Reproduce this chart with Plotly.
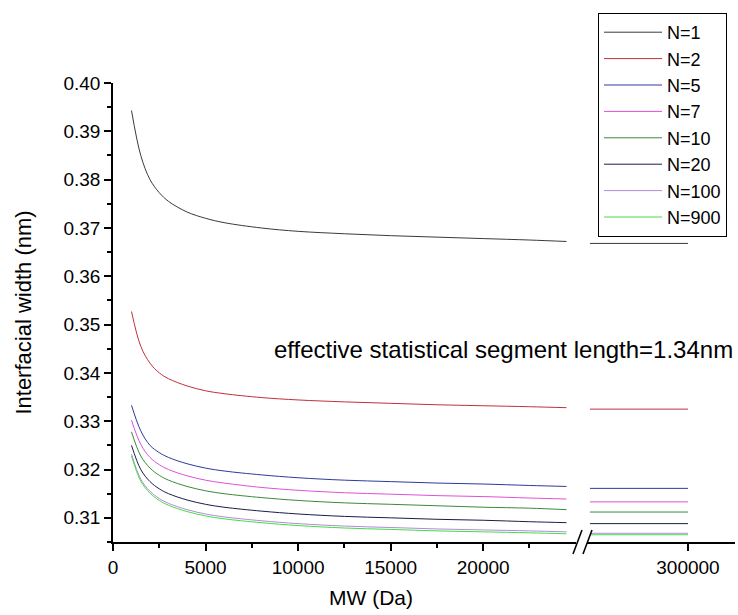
import plotly.graph_objects as go

# ---------------- data ----------------
mw_left = [1000, 1500, 2000, 2500, 3000, 4000, 5000, 6000, 8000, 10000,
           12500, 15000, 17500, 20000, 22500, 24500]
mw_right = [200000, 300000]

series_names = ["N=1", "N=2", "N=5", "N=7", "N=10", "N=20", "N=100", "N=900"]
series_colors = ["#3a3a3a", "#c0303c", "#2e3a9a", "#e050d8", "#3a8a3a",
                 "#1c1c4a", "#b48ad8", "#44dd44"]

w_N1 = [0.3943, 0.3850, 0.3800, 0.3773, 0.3755, 0.3733, 0.3720, 0.3711, 0.3700,
        0.3693, 0.3688, 0.3684, 0.3681, 0.3678, 0.3675, 0.3672]
w_N2 = [0.3527, 0.3455, 0.3420, 0.3400, 0.3388, 0.3373, 0.3363, 0.3357, 0.3349,
        0.3344, 0.3340, 0.3337, 0.3334, 0.3332, 0.3330, 0.3328]
w_N5 = [0.3333, 0.3280, 0.3250, 0.3235, 0.3225, 0.3212, 0.3203, 0.3197, 0.3189,
        0.3183, 0.3178, 0.3175, 0.3172, 0.3170, 0.3167, 0.3165]
w_N7 = [0.3302, 0.3252, 0.3225, 0.3210, 0.3200, 0.3187, 0.3178, 0.3172, 0.3163,
        0.3157, 0.3152, 0.3149, 0.3146, 0.3144, 0.3141, 0.3139]
w_N10 = [0.3278, 0.3228, 0.3203, 0.3188, 0.3178, 0.3165, 0.3156, 0.3150, 0.3142,
         0.3136, 0.3131, 0.3128, 0.3125, 0.3122, 0.3120, 0.3117]
w_N20 = [0.3250, 0.3200, 0.3175, 0.3160, 0.3150, 0.3137, 0.3128, 0.3122, 0.3114,
         0.3108, 0.3103, 0.3100, 0.3097, 0.3095, 0.3092, 0.3090]
w_N100 = [0.3232, 0.3180, 0.3155, 0.3140, 0.3130, 0.3117, 0.3108, 0.3102, 0.3094,
          0.3088, 0.3083, 0.3080, 0.3077, 0.3075, 0.3073, 0.3071]
w_N900 = [0.3228, 0.3176, 0.3151, 0.3136, 0.3126, 0.3113, 0.3104, 0.3098, 0.3090,
          0.3084, 0.3079, 0.3076, 0.3073, 0.3071, 0.3069, 0.3067]

w_right_N1 = [0.3668, 0.3668]
w_right_N2 = [0.3325, 0.3325]
w_right_N5 = [0.3161, 0.3161]
w_right_N7 = [0.3133, 0.3133]
w_right_N10 = [0.3112, 0.3112]
w_right_N20 = [0.3088, 0.3088]
w_right_N100 = [0.3068, 0.3068]
w_right_N900 = [0.3065, 0.3065]

left_sets = [w_N1, w_N2, w_N5, w_N7, w_N10, w_N20, w_N100, w_N900]
right_sets = [w_right_N1, w_right_N2, w_right_N5, w_right_N7, w_right_N10,
              w_right_N20, w_right_N100, w_right_N900]

y_ticks = [0.31, 0.32, 0.33, 0.34, 0.35, 0.36, 0.37, 0.38, 0.39, 0.40]
y_ticklabels = ["0.31", "0.32", "0.33", "0.34", "0.35", "0.36", "0.37", "0.38", "0.39", "0.40"]
x_ticks = [0, 5000, 10000, 15000, 20000]
x_ticklabels = ["0", "5000", "10000", "15000", "20000"]
x2_ticks = [300000]
x2_ticklabels = ["300000"]

FONT = "Liberation Sans, Arial, sans-serif"

fig = go.Figure()
for name, col, yl, yr in zip(series_names, series_colors, left_sets, right_sets):
    fig.add_trace(go.Scatter(x=mw_left, y=yl, mode="lines", name=name,
                             line=dict(color=col, width=1, shape="spline"),
                             xaxis="x", yaxis="y", legendgroup=name))
    fig.add_trace(go.Scatter(x=mw_right, y=yr, mode="lines", name=name,
                             line=dict(color=col, width=1),
                             xaxis="x2", yaxis="y", legendgroup=name,
                             showlegend=False))

W, H = 738, 615
ml, mr, mt, mb = 113, 3, 83, 73
pw = W - ml - mr
ph = H - mt - mb

axis_common = dict(showline=True, linecolor="black", linewidth=1.5,
                   ticks="outside", tickcolor="black", tickwidth=1.5, ticklen=7,
                   showgrid=False, zeroline=False,
                   tickfont=dict(family=FONT, size=19, color="black"))

fig.update_layout(
    width=W, height=H,
    margin=dict(l=ml, r=mr, t=mt, b=mb),
    plot_bgcolor="white", paper_bgcolor="white",
    showlegend=True,
    xaxis=dict(domain=[0, 0.744], range=[0, 25000], tickvals=x_ticks,
               ticktext=x_ticklabels,
               minor=dict(tickvals=[2500, 7500, 12500, 17500, 22500],
                          ticks="outside", ticklen=4, tickcolor="black", tickwidth=1.5),
               anchor="y", **axis_common),
    xaxis2=dict(domain=[0.762, 1], range=[196939, 347959], tickvals=x2_ticks,
                ticktext=x2_ticklabels, anchor="y", **axis_common),
    yaxis=dict(range=[0.305, 0.40], tickvals=y_ticks, ticktext=y_ticklabels,
               minor=dict(tickvals=[0.305 + 0.01 * i for i in range(10)],
                          ticks="outside", ticklen=4, tickcolor="black", tickwidth=1.5),
               title=dict(text="Interfacial width (nm)",
                          font=dict(family=FONT, size=22, color="black"), standoff=26),
               anchor="x", **axis_common),
    legend=dict(x=(598 - ml) / pw, xanchor="left", y=(H - mb - 13) / ph, yanchor="top",
                bordercolor="black", borderwidth=1, bgcolor="white",
                font=dict(family=FONT, size=18, color="black"),
                tracegroupgap=0, itemwidth=58),
    annotations=[
        dict(text="effective statistical segment length=1.34nm",
             xref="paper", x=1, xanchor="right",
             yref="y", y=0.3448, yanchor="middle", showarrow=False,
             font=dict(family=FONT, size=24, color="black")),
        dict(text="MW (Da)", xref="paper", x=(371 - ml) / pw, xanchor="center",
             yref="paper", y=-(597 - (H - mb)) / ph, yanchor="middle", showarrow=False,
             font=dict(family=FONT, size=21, color="black")),
    ],
)

# axis break marks (decoration)
for xp in [573, 583]:
    fig.add_shape(type="line", xref="paper", yref="paper",
                  x0=(xp - ml) / pw, y0=-12 / ph, x1=(xp + 9 - ml) / pw, y1=12 / ph,
                  line=dict(color="black", width=1.5))

fig.write_html("out.html")
